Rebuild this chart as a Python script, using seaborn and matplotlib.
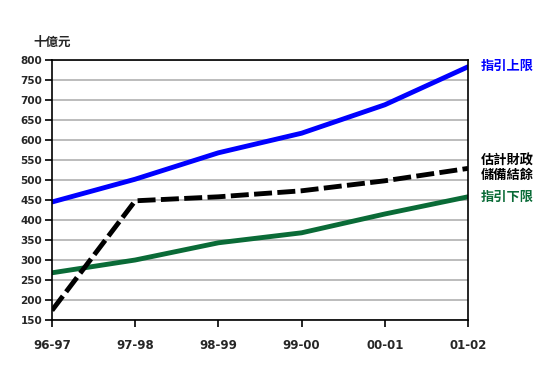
import matplotlib
matplotlib.use("Agg")
import matplotlib.pyplot as plt
import seaborn as sns
import pandas as pd

years = ["96-97", "97-98", "98-99", "99-00", "00-01", "01-02"]
upper = [445, 502, 568, 617, 688, 783]
reserve = [174, 448, 458, 473, 498, 529]
lower = [268, 300, 343, 368, 415, 458]
yticks = list(range(150, 801, 50))

sns.set_theme(style="white")
plt.rcParams['font.family'] = ['DejaVu Sans', 'Noto Sans CJK TC']

fig = plt.figure(figsize=(5.5, 3.68), dpi=100)
ax = fig.add_axes([52/550, 1-320/368, (468-52)/550, (320-60)/368])

idx = list(range(len(years)))
df = pd.DataFrame({"x": idx, "upper": upper, "reserve": reserve, "lower": lower})

for yv in yticks:
    ax.axhline(yv, color="#b0b0b0", lw=1.2, zorder=0)

sns.lineplot(data=df, x="x", y="upper", ax=ax, color="#0000ff", lw=3.5)
sns.lineplot(data=df, x="x", y="lower", ax=ax, color="#0a6b37", lw=3.5)
sns.lineplot(data=df, x="x", y="reserve", ax=ax, color="#000000", lw=3.5,
             dashes=False)
ax.lines[-1].set_dashes((3.7, 1.1))

ax.set_xlim(0, 5)
ax.set_ylim(150, 800)
ax.set_xticks(idx)
ax.set_xticklabels(years, fontsize=8.5, fontweight="heavy")
ax.set_yticks(yticks)
ax.set_yticklabels([str(v) for v in yticks], fontsize=7.5, fontweight="heavy")
ax.set_xlabel("")
ax.set_ylabel("")
ax.tick_params(axis="both", direction="out", length=5, width=1.2, color="black",
               bottom=True, left=True)
ax.tick_params(axis="x", pad=9)
ax.tick_params(axis="y", pad=2)
for s in ax.spines.values():
    s.set_color("black")
    s.set_linewidth(1.2)
    s.set_visible(True)

cjk = ['Noto Sans CJK TC', 'DejaVu Sans']
fig.text(33/550, 1-42/368, "十億元", fontsize=9, fontweight="bold", family=cjk,
         va="center", ha="left")
fig.text(481/550, 1-66/368, "指引上限", fontsize=9.5, fontweight="bold", family=cjk,
         color="#0000ff", va="center", ha="left")
fig.text(481/550, 1-168/368, "估計財政\n儲備結餘", fontsize=9.5, fontweight="bold",
         family=cjk, color="black", va="center", ha="left", linespacing=1.05)
fig.text(481/550, 1-197/368, "指引下限", fontsize=9.5, fontweight="bold", family=cjk,
         color="#0a6b37", va="center", ha="left")

fig.savefig("out.png", dpi=100)
